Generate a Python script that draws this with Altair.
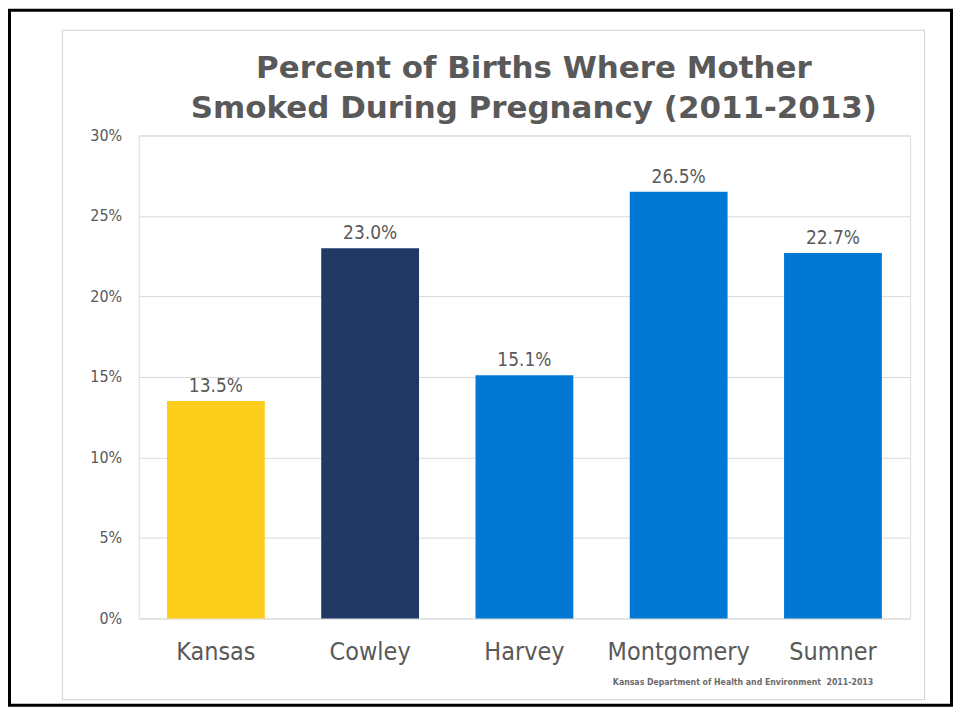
import altair as alt
import pandas as pd

counties = ["Kansas", "Cowley", "Harvey", "Montgomery", "Sumner"]
values = [13.5, 23.0, 15.1, 26.5, 22.7]
bar_colors = ["#FDCD1C", "#203864", "#0078D4", "#0078D4", "#0078D4"]
y_ticks = [0, 5, 10, 15, 20, 25, 30]
title_lines = ["Percent of Births Where Mother", "Smoked During Pregnancy (2011-2013)"]
source_note = "Kansas Department of Health and Environment\u00a0 2011-2013"

df = pd.DataFrame({"county": counties, "value": values})
one = pd.DataFrame({"note": [source_note], "t1": [title_lines[0]], "t2": [title_lines[1]]})

FONT = "DejaVu Sans Condensed, DejaVu Sans"
GRAY = "#595959"

x_enc = alt.X(
    "county:N",
    sort=counties,
    scale=alt.Scale(paddingInner=0.366, paddingOuter=0.183),
    axis=alt.Axis(
        title=None, labelAngle=0, labelFontSize=25, labelFont=FONT,
        labelColor=GRAY, labelPadding=21, ticks=False, domain=False,
    ),
)
y_enc = alt.Y(
    "value:Q",
    scale=alt.Scale(domain=[0, 30], nice=False),
    axis=alt.Axis(
        title=None, values=y_ticks, labelExpr="datum.value + '%'",
        labelFontSize=16, labelFont=FONT, labelColor=GRAY, labelPadding=17,
        ticks=False, domain=False, gridColor="#D9D9D9", gridWidth=1,
    ),
)

base = alt.Chart(df)

bars = base.mark_bar().encode(
    x=x_enc,
    y=y_enc,
    color=alt.Color("county:N", scale=alt.Scale(domain=counties, range=bar_colors), legend=None),
)

labels = base.transform_calculate(
    label="format(datum.value, '.1f') + '%'"
).mark_text(
    dy=-9, baseline="alphabetic", fontSize=19, font=FONT, color=GRAY
).encode(
    x=alt.X("county:N", sort=counties),
    y=alt.Y("value:Q"),
    text="label:N",
)

inner_frame = alt.Chart(one).mark_rect(
    fill="transparent", stroke="#CFCFCF", strokeWidth=1
).encode(
    x=alt.value(-76.5), x2=alt.value(787.5), y=alt.value(-105.5), y2=alt.value(565.5)
)

outer_frame = alt.Chart(one).mark_rect(
    fill="transparent", stroke="#000000", strokeWidth=3
).encode(
    x=alt.value(-129.5), x2=alt.value(814.5), y=alt.value(-125.5), y2=alt.value(571)
)

title_style = dict(
    align="center", baseline="alphabetic", fontSize=31, fontWeight="bold",
    font="DejaVu Sans", color=GRAY,
)
title1 = alt.Chart(one).mark_text(**title_style).encode(
    x=alt.value(396), y=alt.value(-57.7), text="t1:N"
)
title2 = alt.Chart(one).mark_text(**title_style).encode(
    x=alt.value(396), y=alt.value(-17.7), text="t2:N"
)

note = alt.Chart(one).mark_text(
    align="right", baseline="alphabetic", fontSize=8.7, fontWeight="bold",
    font=FONT, color="#6B6B6B"
).encode(
    x=alt.value(736), y=alt.value(550.7), text="note:N"
)

chart = alt.layer(outer_frame, inner_frame, bars, labels, title1, title2, note).properties(
    width=773,
    height=484,
    padding={"left": 131, "top": 127, "right": 43, "bottom": 89},
    autosize=alt.AutoSizeParams(type="none"),
).configure_view(stroke="#D9D9D9", strokeWidth=1).configure(background="white")

chart.save("out.html", embed_options={"renderer": "svg", "actions": False})
